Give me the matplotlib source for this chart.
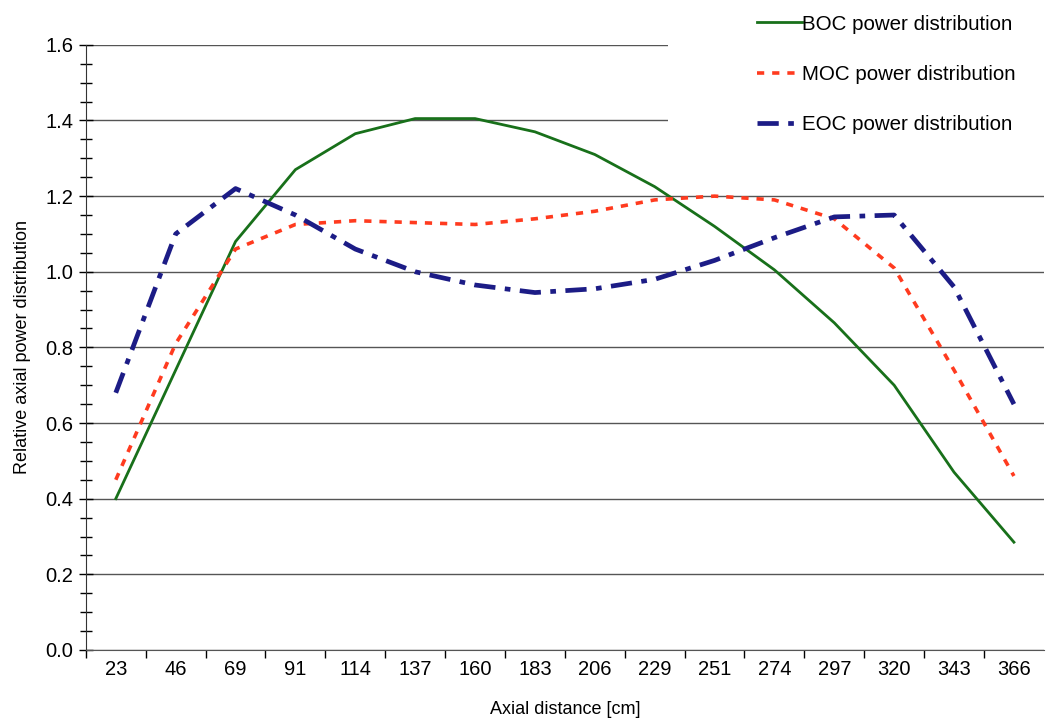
import numpy as np
import matplotlib.pyplot as plt
from matplotlib.patches import Rectangle
from matplotlib.ticker import MultipleLocator

plt.rcParams['font.family'] = ['Liberation Sans', 'DejaVu Sans']

# axial positions [cm] and relative power per cycle stage
distance = ['23', '46', '69', '91', '114', '137', '160', '183',
            '206', '229', '251', '274', '297', '320', '343', '366']
boc = [0.40, 0.74, 1.08, 1.27, 1.365, 1.405, 1.405, 1.37,
       1.31, 1.225, 1.12, 1.005, 0.865, 0.70, 0.47, 0.285]
moc = [0.45, 0.81, 1.06, 1.125, 1.135, 1.13, 1.125, 1.14,
       1.16, 1.19, 1.20, 1.19, 1.14, 1.01, 0.74, 0.46]
eoc = [0.68, 1.10, 1.22, 1.15, 1.06, 1.00, 0.965, 0.945,
       0.955, 0.98, 1.03, 1.09, 1.145, 1.15, 0.96, 0.65]


def main():
    fig = plt.figure(figsize=(10.47, 7.23), dpi=100)
    ax = fig.add_axes([0.082, 0.101, 0.915, 0.837])

    x = np.arange(len(distance))
    ax.plot(x, boc, color='#18701a', lw=2.0, label='BOC power distribution')
    ax.plot(x, moc, color='#ff3b1f', lw=2.6, ls=(0, (2, 2.2)),
            label='MOC power distribution')
    ax.plot(x, eoc, color='#1c1c86', lw=3.4, ls=(0, (4.5, 2, 1.2, 2)),
            label='EOC power distribution')

    ax.set_xlim(-0.5, len(distance) - 0.5)
    ax.set_ylim(0, 1.6)
    ax.set_xticks(x)
    ax.set_xticklabels(distance)
    ax.set_xticks(np.arange(len(distance)) - 0.5, minor=True)
    ax.tick_params(axis='x', which='major', length=0, pad=7, labelsize=14.5)
    ax.tick_params(axis='x', which='minor', length=6, direction='out', width=1)

    ax.set_yticks(np.arange(0, 1.61, 0.2))
    ax.set_yticklabels([f'{v:.1f}' for v in np.arange(0, 1.61, 0.2)])
    ax.yaxis.set_minor_locator(MultipleLocator(0.05))
    ax.tick_params(axis='y', which='both', direction='inout', length=10, width=1,
                   labelsize=14.5, pad=4)
    ax.tick_params(axis='y', which='minor', length=9)

    ax.grid(axis='y', which='major', color='#555555', lw=1)
    ax.set_axisbelow(True)
    for s in ['top', 'right']:
        ax.spines[s].set_visible(False)
    ax.spines['left'].set_color('#333333')
    ax.spines['bottom'].set_color('#555555')

    ax.set_xlabel('Axial distance [cm]', fontsize=13, labelpad=16)
    ax.set_ylabel('Relative axial power distribution', fontsize=13, labelpad=10)

    # white block behind the legend hides the upper gridlines
    fig.patches.append(Rectangle((0.638, 0.79), 0.362, 0.21, transform=fig.transFigure,
                                 facecolor='white', edgecolor='none', zorder=3))
    leg = fig.legend(loc='upper left', bbox_to_anchor=(0.718, 0.987),
                     frameon=False, fontsize=14.8,
                     handlelength=2.2, handletextpad=0.0, labelspacing=1.52,
                     borderpad=0.25, borderaxespad=0.0)
    leg.set_zorder(10)

    fig.savefig('out.png', dpi=100)


if __name__ == '__main__':
    main()
